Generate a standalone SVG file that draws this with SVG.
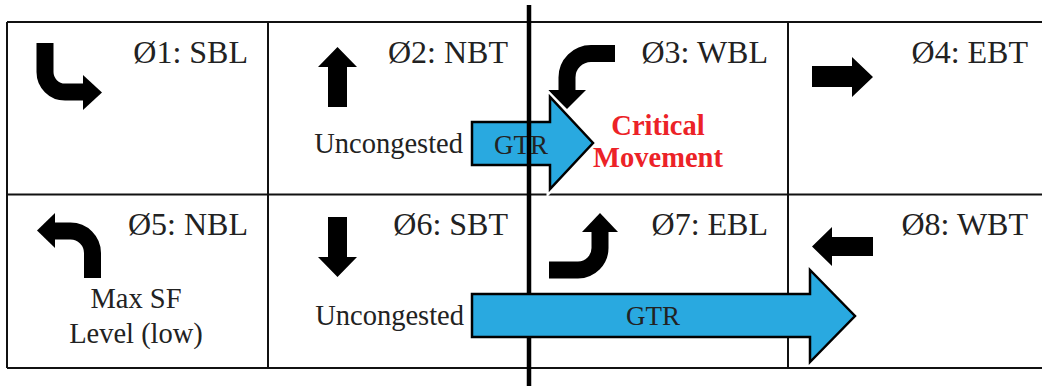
<svg xmlns="http://www.w3.org/2000/svg" width="1042" height="388" viewBox="0 0 1042 388" font-family="Liberation Serif">
  <style>
    .grid { stroke: #111; stroke-width: 2; fill: none; }
    .barrier { stroke: #000; stroke-width: 4.5; }
    .label { font-size: 32px; fill: #222; }
    .note { font-size: 28.5px; fill: #222; }
    .crit { font-size: 28.5px; font-weight: bold; fill: #ec2227; }
    .turn { fill: none; stroke: #000; stroke-width: 17; }
    .head { fill: #000; }
    .gtr { fill: #29a9e0; stroke: #000; stroke-width: 2.5; stroke-linejoin: miter; }
    .halo { fill: #fff; stroke: #fff; stroke-width: 7; }
  </style>

  <rect width="1042" height="388" fill="#fff"/>

  <!-- phase grid -->
  <g id="grid" class="grid">
    <line x1="7" y1="22" x2="1042" y2="22"/>
    <line x1="7" y1="194.5" x2="1042" y2="194.5"/>
    <line x1="7" y1="368" x2="1042" y2="368"/>
    <line x1="7" y1="22" x2="7" y2="368"/>
    <line x1="268" y1="22" x2="268" y2="368"/>
    <line x1="788" y1="22" x2="788" y2="368"/>
  </g>

  <!-- phase 1: southbound left -->
  <g id="p1">
    <path class="turn" d="M45,43 V72 A20,20 0 0 0 65,92 H85"/>
    <polygon class="head" points="83,75 102,92.5 83,110"/>
    <text class="label" x="248" y="63" text-anchor="end">Ø1: SBL</text>
  </g>

  <!-- phase 2: northbound through -->
  <g id="p2">
    <polygon class="head" points="318,67 337.5,47 357,67 347,67 347,107 328,107 328,67"/>
    <text class="label" x="508" y="63" text-anchor="end">Ø2: NBT</text>
    <text class="note" x="463" y="153" text-anchor="end">Uncongested</text>
  </g>

  <!-- phase 3: westbound left -->
  <g id="p3">
    <path class="turn" d="M615,53.5 H591 A24,24 0 0 0 567,77.5 V91"/>
    <polygon class="head" points="548,90 586,90 567,109"/>
    <text class="label" x="768" y="63" text-anchor="end">Ø3: WBL</text>
  </g>

  <!-- phase 4: eastbound through -->
  <g id="p4">
    <polygon class="head" points="812,66 852,66 852,57 873,77 852,97 852,87 812,87"/>
    <text class="label" x="1028" y="63" text-anchor="end">Ø4: EBT</text>
  </g>

  <!-- phase 5: northbound left -->
  <g id="p5">
    <path class="turn" d="M92.5,278 V253 A22,22 0 0 0 70.5,231 H54"/>
    <polygon class="head" points="55,213 37,230.5 55,248"/>
    <text class="label" x="248" y="235" text-anchor="end">Ø5: NBL</text>
    <text class="note" x="136" y="308" text-anchor="middle">Max SF</text>
    <text class="note" x="136" y="343" text-anchor="middle">Level (low)</text>
  </g>

  <!-- phase 6: southbound through -->
  <g id="p6">
    <polygon class="head" points="328,217 347,217 347,257 357,257 337.5,277 318,257 328,257"/>
    <text class="label" x="508" y="235" text-anchor="end">Ø6: SBT</text>
    <text class="note" x="464" y="325" text-anchor="end">Uncongested</text>
  </g>

  <!-- phase 7: eastbound left -->
  <g id="p7">
    <path class="turn" d="M549,270 H578 A22,22 0 0 0 600,248 V231"/>
    <polygon class="head" points="582,232 600,213 618,232"/>
    <text class="label" x="768" y="235" text-anchor="end">Ø7: EBL</text>
  </g>

  <!-- phase 8: westbound through -->
  <g id="p8">
    <polygon class="head" points="873,237 873,256 832,256 832,266 812,246.5 832,227 832,237"/>
    <text class="label" x="1028" y="235" text-anchor="end">Ø8: WBT</text>
  </g>

  <!-- GTR transfer arrows and ring barrier -->
  <g id="connectors">
    <g id="gtr-top">
      <polygon class="halo" points="472,122 550,122 550,97 593,143 550,189 550,165 472,165"/>
      <polygon class="gtr" points="472,122 550,122 550,97 593,143 550,189 550,165 472,165"/>
      <text class="note" x="521" y="154" text-anchor="middle" style="font-size:27px">GTR</text>
    </g>
    <line id="barrier" class="barrier" x1="529" y1="5" x2="529" y2="386"/>
    <g id="gtr-bottom">
      <polygon class="gtr" points="472,294 810,294 810,270 855,316 810,362 810,337 472,337"/>
      <text class="note" x="653" y="325" text-anchor="middle" style="font-size:27px">GTR</text>
    </g>
  </g>

  <!-- critical movement callout -->
  <g id="critical">
    <text class="crit" x="658" y="135" text-anchor="middle">Critical</text>
    <text class="crit" x="658" y="167" text-anchor="middle">Movement</text>
  </g>
</svg>
